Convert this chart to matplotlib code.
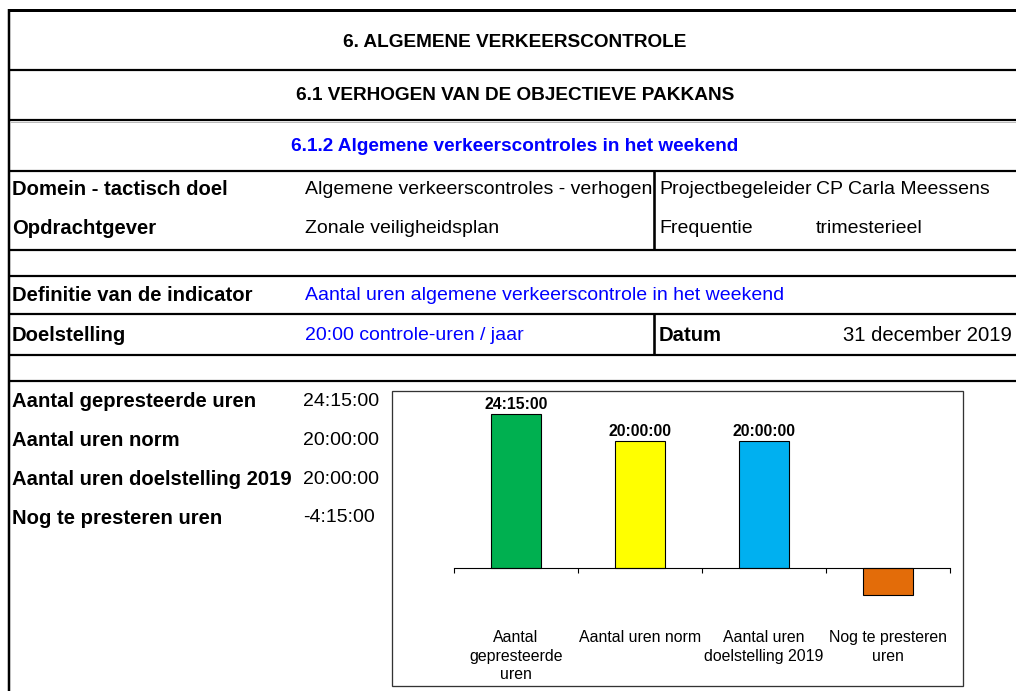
import matplotlib
matplotlib.use("Agg")
import matplotlib.pyplot as plt
from matplotlib.patches import Rectangle

plt.rcParams['font.family'] = ['Liberation Sans', 'DejaVu Sans']

# ---------------- data ----------------
title = "6. ALGEMENE VERKEERSCONTROLE"
subtitle = "6.1 VERHOGEN VAN DE OBJECTIEVE PAKKANS"
section = "6.1.2 Algemene verkeerscontroles in het weekend"

info_labels = ["Domein - tactisch doel", "Opdrachtgever"]
info_values = ["Algemene verkeerscontroles - verhogen", "Zonale veiligheidsplan"]
info_labels2 = ["Projectbegeleider", "Frequentie"]
info_values2 = ["CP Carla Meessens", "trimesterieel"]

indicator_label = "Definitie van de indicator"
indicator_value = "Aantal uren algemene verkeerscontrole in het weekend"
goal_label = "Doelstelling"
goal_value = "20:00 controle-uren / jaar"
date_label = "Datum"
date_value = "31 december 2019"

row_labels = ["Aantal gepresteerde uren", "Aantal uren norm",
              "Aantal uren doelstelling 2019", "Nog te presteren uren"]
categories = ["Aantal\ngepresteerde\nuren", "Aantal uren norm",
              "Aantal uren\ndoelstelling 2019", "Nog te presteren\nuren"]
hours = [24.25, 20.0, 20.0, -4.25]
bar_colors = ["#00B050", "#FFFF00", "#00B0F0", "#E36C09"]
show_label = [True, True, True, False]


def fmt_hours(h):
    sign = "-" if h < 0 else ""
    total = int(round(abs(h) * 3600))
    return f"{sign}{total // 3600}:{(total % 3600) // 60:02d}:{total % 60:02d}"


# ---------------- figure ----------------
W, H = 1016, 691
fig = plt.figure(figsize=(W / 100, H / 100), dpi=100)
bg = fig.add_axes([0, 0, 1, 1])
bg.set_xlim(0, W)
bg.set_ylim(H, 0)
bg.axis("off")

PX = 0.72  # points per pixel
BLUE = "#0000FF"
FS_H = 13.7   # headers
FS_R = 14.0   # regular body text
FS_B = 14.6   # bold row labels
xl, xr = 9, W + 5

# frame lines
bg.plot([xl, xr], [10, 10], color="black", lw=3 * PX, solid_capstyle="butt")
bg.plot([xl, xl], [9, H + 5], color="black", lw=2.5 * PX, solid_capstyle="butt")
for y in [70, 120, 171, 250, 276, 314, 355, 381]:
    bg.plot([xl, xr], [y, y], color="black", lw=2.2 * PX, solid_capstyle="butt")
bg.plot([xl + 2, xr], [122, 122], color="#bbbbbb", lw=1 * PX)
for y0, y1 in [(171, 250), (314, 355)]:
    bg.plot([654, 654], [y0, y1], color="black", lw=2.6 * PX, solid_capstyle="butt")

# headers
bg.text(515, 42, title, ha="center", va="center", fontsize=FS_H, fontweight="bold")
bg.text(515, 95, subtitle, ha="center", va="center", fontsize=FS_H, fontweight="bold")
bg.text(515, 146, section, ha="center", va="center", fontsize=FS_H, fontweight="bold", color=BLUE)

# info rows
for i, y in enumerate([189, 228]):
    bg.text(12, y, info_labels[i], ha="left", va="center", fontsize=FS_B, fontweight="bold")
    bg.text(305, y, info_values[i], ha="left", va="center", fontsize=FS_R)
    bg.text(659, y, info_labels2[i], ha="left", va="center", fontsize=FS_R)
    bg.text(816, y, info_values2[i], ha="left", va="center", fontsize=FS_R)

bg.text(12, 295, indicator_label, ha="left", va="center", fontsize=FS_B, fontweight="bold")
bg.text(305, 295, indicator_value, ha="left", va="center", fontsize=FS_R, color=BLUE)
bg.text(12, 335, goal_label, ha="left", va="center", fontsize=FS_B, fontweight="bold")
bg.text(305, 335, goal_value, ha="left", va="center", fontsize=FS_R, color=BLUE)
bg.text(659, 335, date_label, ha="left", va="center", fontsize=FS_B, fontweight="bold")
bg.text(1012, 335, date_value, ha="right", va="center", fontsize=14.6)

for i, y in enumerate([401, 440, 479, 518]):
    bg.text(12, y, row_labels[i], ha="left", va="center", fontsize=FS_B, fontweight="bold")
    bg.text(303, y, fmt_hours(hours[i]), ha="left", va="center", fontsize=FS_R)

# chart box
bg.add_patch(Rectangle((392, 391), 571, 295, fill=False, edgecolor="#333333", lw=1.3 * PX))

# ---------------- bar chart ----------------
ppu = 6.33
zero_y = 568
ymax, ymin = 26, -8
top_px = zero_y - ymax * ppu
bot_px = zero_y - ymin * ppu
ax_left, ax_right = 454, 950
ax = fig.add_axes([ax_left / W, (H - bot_px) / H, (ax_right - ax_left) / W, (bot_px - top_px) / H])
ax.set_facecolor("none")
x = list(range(len(hours)))
bars = ax.bar(x, hours, width=0.40, color=bar_colors, edgecolor="black", linewidth=1.1 * PX, zorder=2)
ax.set_xlim(-0.5, len(hours) - 0.5)
ax.set_ylim(ymin, ymax)

for s in ["top", "right", "left"]:
    ax.spines[s].set_visible(False)
ax.spines["bottom"].set_position(("data", 0))
ax.spines["bottom"].set_linewidth(1.1 * PX)
ax.spines["bottom"].set_zorder(3)
ax.set_yticks([])
ax.set_xticks(x)
ax.set_xticklabels(categories, fontsize=11.4, linespacing=1.3)
ax.tick_params(axis="x", which="major", length=0, pad=(630 - zero_y) * PX)
ax.set_xticks([i - 0.5 for i in range(len(hours) + 1)], minor=True)
ax.tick_params(axis="x", which="minor", length=5 * PX, width=1.1 * PX, direction="out")

for b, h, show in zip(bars, hours, show_label):
    if show:
        ax.annotate(fmt_hours(h), (b.get_x() + b.get_width() / 2, h), xytext=(0, 2),
                    textcoords="offset points", ha="center", va="bottom",
                    fontsize=11.3, fontweight="bold")

fig.savefig("out.png", dpi=100)
